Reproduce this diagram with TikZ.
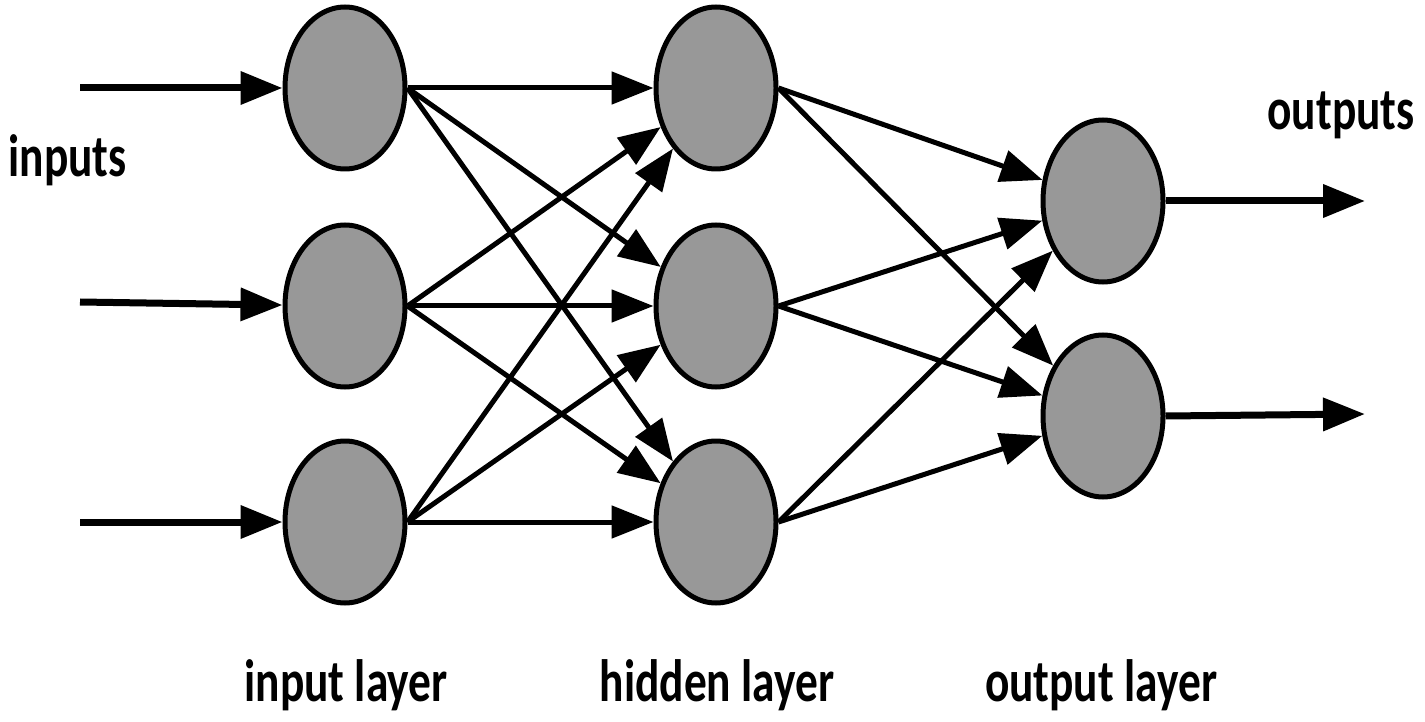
\documentclass[tikz,border=0pt]{standalone}
\usepackage{fontspec}
\setmainfont{Carlito}
\newfontfamily\layerfont{Carlito}[FakeStretch=0.76]
\usetikzlibrary{arrows.meta,shapes.geometric}
\definecolor{neurongray}{RGB}{152,152,152}
\begin{document}
\begin{tikzpicture}[
    neuron/.style={draw, ellipse, line width=0.1cm, fill=neurongray,
                   minimum width=2.4cm, minimum height=3.24cm, inner sep=0pt},
    link/.style={-{Triangle[length=0.84cm, width=0.64cm]}, line width=0.1cm},
    ioarrow/.style={-{Triangle[length=0.84cm, width=0.64cm]}, line width=0.14cm},
    caption/.style={anchor=base, font=\layerfont\fontsize{34}{40}\selectfont\bfseries}
]
\useasboundingbox (0,0) rectangle (28.5,-14.44);

% Neuroni
\node[neuron] (in1)  at (6.9,-1.76)   {};
\node[neuron] (in2)  at (6.9,-6.12)   {};
\node[neuron] (in3)  at (6.9,-10.44)  {};
\node[neuron] (hid1) at (14.32,-1.76)  {};
\node[neuron] (hid2) at (14.32,-6.12)  {};
\node[neuron] (hid3) at (14.32,-10.44) {};
\node[neuron] (out1) at (22.06,-4.02)  {};
\node[neuron] (out2) at (22.06,-8.32)  {};

% Capete libere
\coordinate (src1) at (1.6,-1.76);
\coordinate (src2) at (1.6,-6.04);
\coordinate (src3) at (1.6,-10.44);
\coordinate (dst1) at (27.3,-4.02);
\coordinate (dst2) at (27.3,-8.28);

% Intrari
\foreach \i in {1,2,3} {
    \draw[ioarrow] (src\i) -- (in\i);
}

% input -> hidden
\foreach \i in {1,2,3} {
    \foreach \j in {1,2,3} {
        \draw[link] (in\i.east) -- (hid\j);
    }
}

% hidden -> output
\foreach \i in {1,2,3} {
    \foreach \j in {1,2} {
        \draw[link] (hid\i.east) -- (out\j);
    }
}

% Iesiri
\foreach \i in {1,2} {
    \draw[ioarrow] (out\i.east) -- (dst\i);
}

% Etichete
\node[caption] (lblin)  at (1.35,-3.54)   {inputs};
\node[caption] (lblout) at (26.82,-2.6)   {outputs};
\node[caption] (lay1)   at (6.92,-14.02)  {input layer};
\node[caption] (lay2)   at (14.34,-14.02) {hidden layer};
\node[caption] (lay3)   at (22.02,-14.02) {output layer};

\end{tikzpicture}
\end{document}
